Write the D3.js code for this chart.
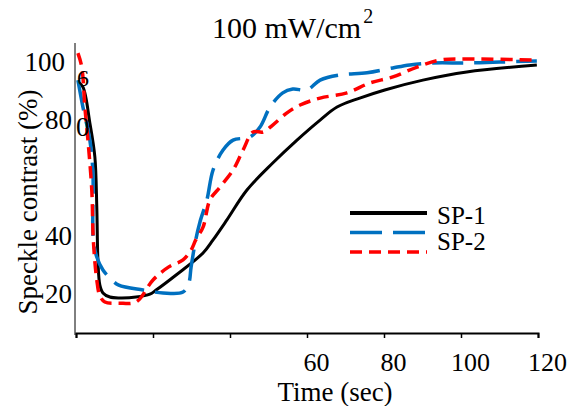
<!DOCTYPE html>
<html>
<head>
<meta charset="utf-8">
<script src="https://cdn.jsdelivr.net/npm/d3@7"></script>
<style>
  body { margin: 0; background: #fff; }
  text { font-family: "Liberation Serif", "Times New Roman", serif; fill: #000; }
</style>
</head>
<body>
<script>
// Values (time in sec, speckle contrast in %).
const sp1Time = [0.5,1.8,3.6,4.9,5.4,5.7,6.2,7.0,8.8,11.4,15.6,19.2,20.8,26.0,33.0,35.6,39.2,44.4,51.1,57.4,63.4,67.8,73.7,80.2,90.1,101.5,119.7];
const sp1Val  = [93.4,91.7,79.3,67.6,50.3,32.1,23.4,20.7,19.3,19.0,19.3,20.3,21.7,26.9,34.5,39.0,45.9,56.2,65.5,73.4,80.3,84.8,87.9,90.7,94.1,96.9,99.3];

const sp2Time = [0.5,1.8,3.6,4.4,4.5,5.4,7.0,9.3,11.1,17.4,22.6,27.8,29.3,29.9,31.1,32.2,34.0,35.6,38.2,40.8,45.2,47.8,50.4,53.7,56.3,60.0,63.4,68.6,75.6,82.3,86.7,92.7,101.5,110.1,119.7];
const sp2Val  = [94.1,84.8,73.4,62.1,39.0,33.1,28.6,25.2,23.4,21.7,20.7,21.0,24.1,29.7,39.0,45.2,52.8,63.1,70.0,73.4,74.5,77.9,84.8,89.7,91.0,90.7,94.1,95.9,96.6,98.3,99.3,100.0,100.0,100.3,100.7];

const sp3Time = [0.5,1.5,2.3,3.1,4.1,4.5,5.4,6.2,7.5,11.1,15.6,20.0,24.1,27.8,29.9,31.1,33.0,34.8,37.4,40.8,43.4,46.0,48.6,51.1,54.8,58.2,63.4,70.4,76.3,82.3,88.6,94.5,101.5,119.7];
const sp3Val  = [103.4,98.6,84.8,73.4,56.2,39.0,25.2,19.7,17.6,17.2,17.6,25.2,29.7,32.1,35.5,39.0,43.4,52.8,57.2,63.1,70.0,76.2,76.2,78.6,82.8,85.5,87.9,89.7,93.1,95.2,98.6,101.0,101.4,101.0];

const xTicks = [0, 20, 40, 60, 80, 100, 120];
const xLabelled = [60, 80, 100, 120];
const yTicks = [100, 80, 40, 20];
const legendNames = ["SP-1", "SP-2", ""];

const series = [
  { t: sp1Time, v: sp1Val, color: "#000000", width: 3, dash: null },
  { t: sp2Time, v: sp2Val, color: "#0070c0", width: 3.5, dash: "31,11" },
  { t: sp3Time, v: sp3Val, color: "#ff0000", width: 3.5, dash: "12,7" }
];

const W = 576, H = 406;
const svg = d3.select("body").append("svg")
  .attr("width", W).attr("height", H);

const x = d3.scaleLinear().domain([0, 120]).range([76, 538]);
const y = d3.scaleLinear().domain([6.9, 106.2]).range([333, 45]);

// curves
const line = d3.line()
  .x(d => x(d[0]))
  .y(d => y(d[1]))
  .curve(d3.curveCatmullRom.alpha(0.5));

series.forEach(s => {
  svg.append("path")
    .datum(s.t.map((t, i) => [t, s.v[i]]))
    .attr("fill", "none")
    .attr("stroke", s.color)
    .attr("stroke-width", s.width)
    .attr("stroke-dasharray", s.dash)
    .attr("d", line);
});

// x axis
const xAxis = svg.append("g")
  .attr("transform", "translate(0,333)")
  .call(d3.axisBottom(x).tickValues(xTicks).tickSizeOuter(0).tickSize(5)
    .tickFormat(d => xLabelled.includes(d) ? d : ""));
xAxis.select(".domain").attr("stroke", "#000").attr("stroke-width", 2);
xAxis.selectAll(".tick line").attr("stroke", "#000").attr("stroke-width", 1.5);
xAxis.selectAll(".tick text")
  .attr("font-family", "Liberation Serif")
  .attr("font-size", 26)
  .attr("dx", 9)
  .attr("y", 38).attr("dy", 0);

// y axis line (no ticks in the original)
svg.append("line")
  .attr("x1", 75).attr("x2", 75)
  .attr("y1", y.range()[1] - 2).attr("y2", y.range()[0] + 2)
  .attr("stroke", "#000").attr("stroke-width", 1);

svg.append("g").selectAll("text")
  .data(yTicks)
  .join("text")
  .attr("x", d => d === 100 ? 65 : 72)
  .attr("y", d => y(d) + 8)
  .attr("text-anchor", "end")
  .attr("font-size", 27)
  .text(d => d);

// stray glyphs near the top of the y axis
svg.append("text").attr("x", 77).attr("y", 86).attr("font-size", 24).text("6");
svg.append("text").attr("x", 76).attr("y", 136).attr("font-size", 27).text("0");

// axis titles
svg.append("text")
  .attr("x", 335).attr("y", 401)
  .attr("text-anchor", "middle")
  .attr("font-size", 27)
  .text("Time (sec)");

svg.append("text")
  .attr("transform", "translate(37,202) rotate(-90)")
  .attr("text-anchor", "middle")
  .attr("font-size", 27)
  .text("Speckle contrast (%)");

// title
const title = svg.append("text")
  .attr("x", 212).attr("y", 38)
  .attr("font-size", 30);
title.append("tspan").text("100 mW/cm");
title.append("tspan").attr("font-size", 20).attr("dy", -15).attr("dx", 2).text("2");

// legend
const legend = svg.append("g");
const legendTextY = [224, 250];
series.forEach((s, i) => {
  const ly = 213 + i * 19.5;
  legend.append("line")
    .attr("x1", 350).attr("x2", 427)
    .attr("y1", ly).attr("y2", ly)
    .attr("stroke", s.color)
    .attr("stroke-width", i === 0 ? 4 : s.width)
    .attr("stroke-dasharray", i === 1 ? "32,11" : s.dash);
  if (legendNames[i]) {
    legend.append("text")
      .attr("x", 437).attr("y", legendTextY[i])
      .attr("font-size", 25)
      .text(legendNames[i]);
  }
});
</script>
</body>
</html>
